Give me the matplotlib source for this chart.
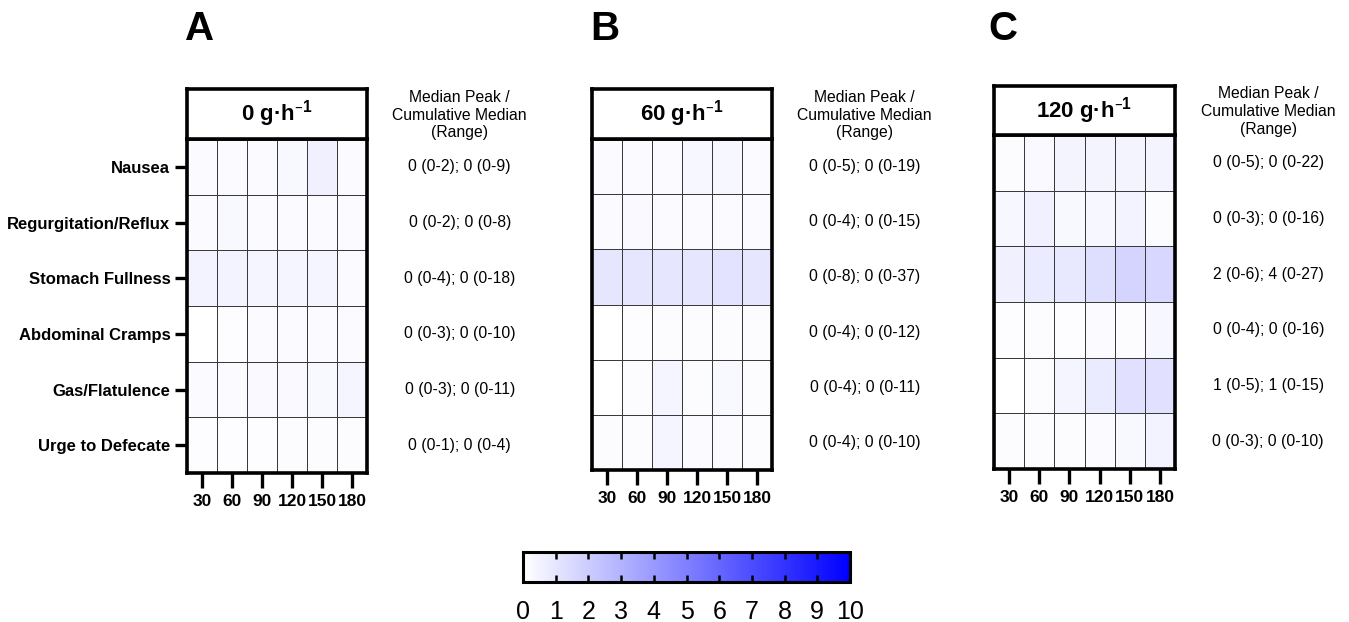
import numpy as np
import matplotlib
matplotlib.use("Agg")
import matplotlib.pyplot as plt
from matplotlib.colors import LinearSegmentedColormap
from matplotlib.cm import ScalarMappable
from matplotlib.colors import Normalize
import matplotlib.transforms as mtransforms

plt.rcParams['font.family'] = ['Liberation Sans', 'DejaVu Sans']
plt.rcParams['mathtext.default'] = 'regular'

# datos
symptoms = ["Nausea", "Regurgitation/Reflux", "Stomach Fullness",
            "Abdominal Cramps", "Gas/Flatulence", "Urge to Defecate"]
times = [30, 60, 90, 120, 150, 180]
panel_letters = ["A", "B", "C"]
doses = ["0 g·h$^{–1}$", "60 g·h$^{–1}$", "120 g·h$^{–1}$"]

scores_0 = [
    [0.2, 0.2, 0.2, 0.3, 0.6, 0.2],
    [0.2, 0.3, 0.2, 0.2, 0.2, 0.2],
    [0.5, 0.5, 0.4, 0.4, 0.4, 0.2],
    [0.0, 0.1, 0.2, 0.2, 0.2, 0.2],
    [0.2, 0.2, 0.25, 0.25, 0.3, 0.4],
    [0.1, 0.1, 0.1, 0.15, 0.15, 0.15],
]
scores_60 = [
    [0.2, 0.2, 0.2, 0.35, 0.35, 0.2],
    [0.2, 0.25, 0.2, 0.2, 0.2, 0.2],
    [1.0, 1.0, 1.0, 1.0, 1.1, 1.0],
    [0.0, 0.1, 0.15, 0.15, 0.15, 0.15],
    [0.0, 0.15, 0.4, 0.15, 0.3, 0.15],
    [0.15, 0.15, 0.4, 0.2, 0.2, 0.15],
]
scores_120 = [
    [0.15, 0.25, 0.45, 0.45, 0.45, 0.45],
    [0.35, 0.6, 0.3, 0.35, 0.5, 0.15],
    [0.6, 0.8, 0.9, 1.3, 1.7, 1.6],
    [0.1, 0.15, 0.1, 0.2, 0.15, 0.35],
    [0.0, 0.15, 0.4, 0.8, 1.2, 1.2],
    [0.15, 0.15, 0.15, 0.2, 0.3, 0.5],
]

summary_0 = ["0 (0-2); 0 (0-9)", "0 (0-2); 0 (0-8)", "0 (0-4); 0 (0-18)",
             "0 (0-3); 0 (0-10)", "0 (0-3); 0 (0-11)", "0 (0-1); 0 (0-4)"]
summary_60 = ["0 (0-5); 0 (0-19)", "0 (0-4); 0 (0-15)", "0 (0-8); 0 (0-37)",
              "0 (0-4); 0 (0-12)", "0 (0-4); 0 (0-11)", "0 (0-4); 0 (0-10)"]
summary_120 = ["0 (0-5); 0 (0-22)", "0 (0-3); 0 (0-16)", "2 (0-6); 4 (0-27)",
               "0 (0-4); 0 (0-16)", "1 (0-5); 1 (0-15)", "0 (0-3); 0 (0-10)"]

cbar_ticks = list(range(0, 11))

panels = [
    (scores_0, summary_0),
    (scores_60, summary_60),
    (scores_120, summary_120),
]

# posiciones en pixeles: izquierda, ancho, arriba cabecera, arriba mapa, abajo mapa
W, H = 1349, 622
layout = [
    (187, 180, 89, 139, 473),
    (592, 180, 89, 139, 470),
    (994, 181, 86, 135, 469),
]
letter_x = [200, 605, 1003]

cmap = LinearSegmentedColormap.from_list("wb", ["white", "blue"])

fig = plt.figure(figsize=(W / 100, H / 100), dpi=100)

for i, (scores, summary) in enumerate(panels):
    left, width, top_h, top_m, bot_m = layout[i]
    ax = fig.add_axes([left / W, 1 - bot_m / H, width / W, (bot_m - top_m) / H])
    data = np.array(scores)
    ax.pcolormesh(np.arange(len(times) + 1), np.arange(len(symptoms) + 1), data,
                  cmap=cmap, vmin=0, vmax=10, edgecolors='#3a3a3a', linewidth=0.65)
    ax.set_xlim(0, len(times))
    ax.set_ylim(len(symptoms), 0)
    ax.set_xticks(np.arange(len(times)) + 0.5)
    ax.set_xticklabels([str(t) for t in times], fontsize=12.5, fontweight='bold')
    ax.set_yticks(np.arange(len(symptoms)) + 0.5)
    if i == 0:
        ax.set_yticklabels(symptoms, fontsize=12, fontweight='bold')
    else:
        ax.set_yticks([])
    ax.tick_params(axis='x', length=11, width=2.4, pad=4)
    ax.tick_params(axis='y', length=9, width=2.4, pad=3)
    for sp in ax.spines.values():
        sp.set_linewidth(2.6)

    # textos de resumen
    trans = mtransforms.blended_transform_factory(ax.transAxes, ax.transData)
    for r, s in enumerate(summary):
        ax.text(1.515, r + 0.5, s, transform=trans, ha='center', va='center',
                fontsize=11.3, clip_on=False)

    # cabecera
    hx = fig.add_axes([left / W, 1 - top_m / H, width / W, (top_m - top_h) / H])
    hx.set_xticks([])
    hx.set_yticks([])
    for sp in hx.spines.values():
        sp.set_linewidth(2.6)
    hx.text(0.5, 0.5, doses[i], transform=hx.transAxes, ha='center', va='center',
            fontsize=16, fontweight='bold')
    hx.text(1.515, 0.48, "Median Peak /\nCumulative Median\n(Range)",
            transform=hx.transAxes, ha='center', va='center', fontsize=11.3,
            linespacing=1.22)

    fig.text(letter_x[i] / W, 1 - 29 / H, panel_letters[i], fontsize=29,
             fontweight='bold', ha='center', va='center')

# barra de color
cax = fig.add_axes([523 / W, 1 - 582 / H, 327 / W, 30 / H])
cb = fig.colorbar(ScalarMappable(norm=Normalize(0, 10), cmap=cmap), cax=cax,
                  orientation='horizontal', ticks=cbar_ticks)
cb.outline.set_linewidth(2.2)
cax.xaxis.set_ticks_position('both')
cax.tick_params(axis='x', direction='in', length=5, width=1.8, labelsize=18,
                pad=13, labeltop=False)
cax.set_xticklabels([str(t) for t in cbar_ticks])

fig.savefig("out.png", dpi=100)
